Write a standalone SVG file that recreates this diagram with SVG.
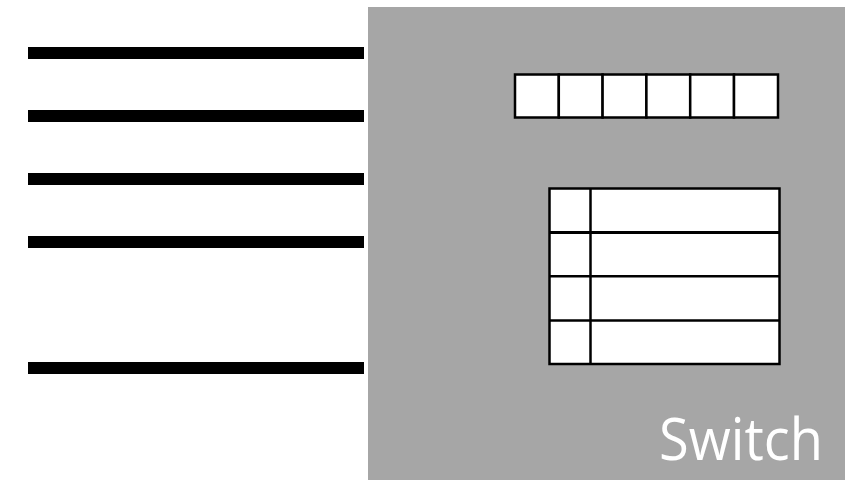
<svg xmlns="http://www.w3.org/2000/svg" width="851" height="480" viewBox="0 0 851 480">
<style>
.bar{fill:#000}
.cell{fill:#fff;stroke:#000;stroke-width:2.5}
.lbl{font-family:"Open Sans","Liberation Sans",sans-serif;fill:#fff;font-size:58px}
</style>
<rect width="851" height="480" fill="#fff"/>
<g id="links">
<rect class="bar" x="28" y="47" width="336" height="12"/>
<rect class="bar" x="28" y="110" width="336" height="12"/>
<rect class="bar" x="28" y="173" width="336" height="12"/>
<rect class="bar" x="28" y="236" width="336" height="12"/>
<rect class="bar" x="28" y="362" width="336" height="12"/>
</g>
<g id="switch">
<rect x="368" y="7" width="477" height="473" fill="#a6a6a6"/>
<text class="lbl" x="659" y="460" textLength="164" lengthAdjust="spacingAndGlyphs">Switch</text>
</g>
<g id="queue">
<rect class="cell" x="515" y="74.5" width="43.8" height="43"/>
<rect class="cell" x="558.8" y="74.5" width="43.8" height="43"/>
<rect class="cell" x="602.6" y="74.5" width="43.8" height="43"/>
<rect class="cell" x="646.4" y="74.5" width="43.8" height="43"/>
<rect class="cell" x="690.2" y="74.5" width="43.8" height="43"/>
<rect class="cell" x="734" y="74.5" width="44" height="43"/>
</g>
<g id="table">
<rect class="cell" x="549.5" y="188.5" width="230" height="175.5"/>
<line x1="590.5" y1="188.5" x2="590.5" y2="364" stroke="#000" stroke-width="2.5"/>
<line x1="549.5" y1="232.5" x2="779.5" y2="232.5" stroke="#000" stroke-width="3"/>
<line x1="549.5" y1="276.3" x2="779.5" y2="276.3" stroke="#000" stroke-width="2.5"/>
<line x1="549.5" y1="320.5" x2="779.5" y2="320.5" stroke="#000" stroke-width="2.5"/>
</g>
</svg>
